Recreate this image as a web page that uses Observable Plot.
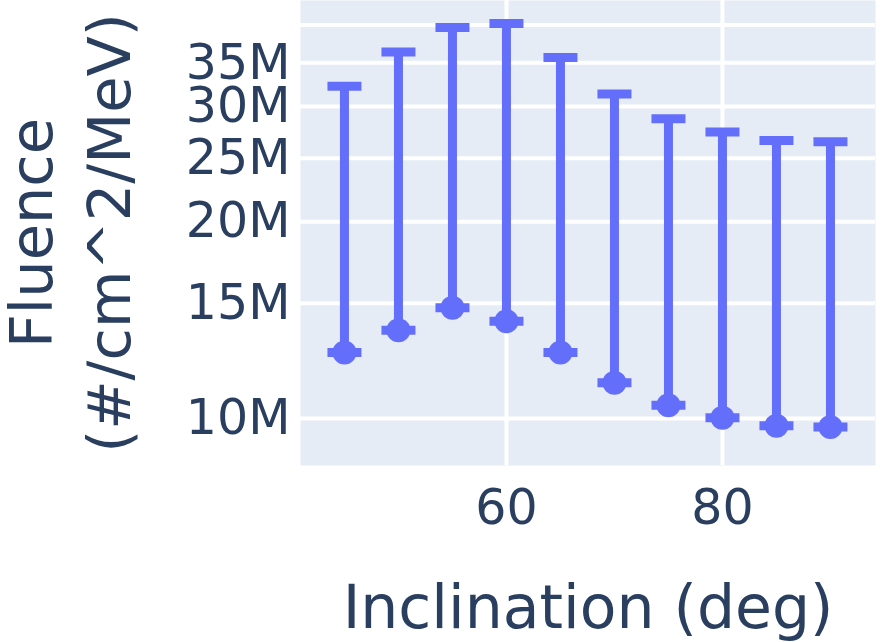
<!DOCTYPE html>
<html>
<head>
<meta charset="utf-8">
<script src="https://cdn.jsdelivr.net/npm/d3@7"></script>
<script src="https://cdn.jsdelivr.net/npm/@observablehq/plot@0.6"></script>
<style>
  html, body { margin: 0; padding: 0; background: #fff; }
  #chart { width: 896px; height: 642px; }
</style>
</head>
<body>
<div id="chart"></div>
<script>
const inclination = [45, 50, 55, 60, 65, 70, 75, 80, 85, 90];
const fluenceLow  = [12.61e6, 13.64e6, 14.77e6, 14.08e6, 12.61e6, 11.34e6, 10.47e6, 10.02e6, 9.745e6, 9.70e6];
const fluenceHigh = [32.24e6, 36.36e6, 39.66e6, 40.22e6, 35.68e6, 31.35e6, 28.73e6, 27.42e6, 26.63e6, 26.50e6];
const yTicks = [10e6, 15e6, 20e6, 25e6, 30e6, 35e6];
const yGrid = [10e6, 15e6, 20e6, 25e6, 30e6, 35e6, 40e6];
const xTicks = [60, 80];

const data = inclination.map((x, i) => ({x, lo: fluenceLow[i], hi: fluenceHigh[i]}));

const color = "#636efa";
const font = "DejaVu Sans";
const textColor = "#2a3f5f";

const capSymbol = {
  draw(context) {
    context.rect(-17, -4.5, 34, 9);
  }
};

const chart = Plot.plot({
  width: 896,
  height: 642,
  marginLeft: 300,
  marginRight: 21,
  marginTop: 0,
  marginBottom: 177,
  style: {fontFamily: font, color: textColor, background: "#fff"},
  x: {domain: [40.93, 94.17]},
  y: {type: "log", domain: [8.47e6, 43.6e6]},
  marks: [
    Plot.frame({fill: "#e5ecf6", stroke: null}),
    Plot.gridY(yGrid, {stroke: "#fff", strokeOpacity: 1, strokeWidth: 4}),
    Plot.gridX(xTicks, {stroke: "#fff", strokeOpacity: 1, strokeWidth: 4}),
    Plot.axisY(yTicks, {tickSize: 0, tickPadding: 10, fontSize: 49, fill: textColor,
      tickFormat: d => (d / 1e6) + "M", label: null}),
    Plot.axisX(xTicks, {tickSize: 0, tickPadding: 24, fontSize: 49, fill: textColor, label: null}),
    Plot.ruleX(data, {x: "x", y1: "lo", y2: "hi", stroke: color, strokeWidth: 9}),
    Plot.dot(data, {x: "x", y: "hi", symbol: capSymbol, fill: color, stroke: null}),
    Plot.dot(data, {x: "x", y: "lo", symbol: capSymbol, fill: color, stroke: null}),
    Plot.dot(data, {x: "x", y: "lo", r: 12, fill: color, stroke: null}),
    Plot.text(["Inclination (deg)"], {frameAnchor: "bottom", dy: 162, fontSize: 60, fill: textColor, textAnchor: "middle"}),
    Plot.text(["Fluence\n(#/cm^2/MeV)"], {frameAnchor: "left", dx: -234, rotate: -90, fontSize: 59,
      lineHeight: 1.32, fill: textColor, textAnchor: "middle", lineAnchor: "middle"})
  ]
});
document.getElementById("chart").appendChild(chart);
</script>
</body>
</html>
